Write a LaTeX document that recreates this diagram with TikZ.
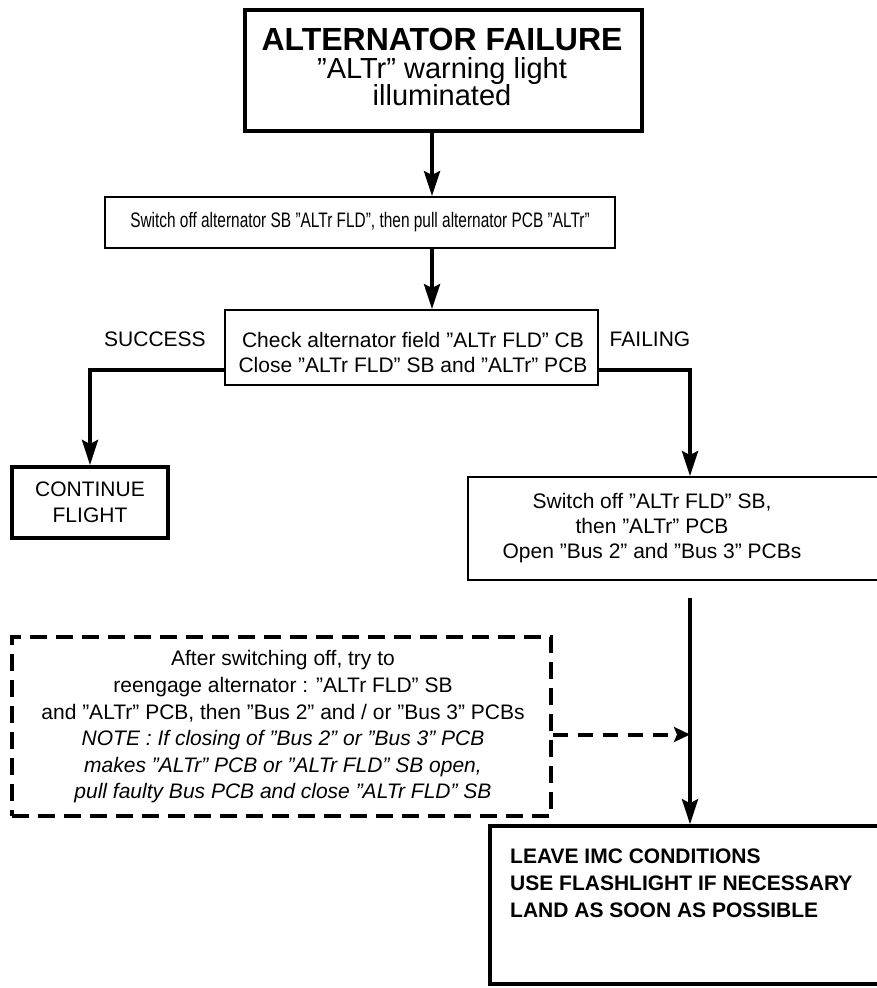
\documentclass[tikz,border=0pt]{standalone}
\usepackage{fontspec}
\usepackage{graphicx}
\setmainfont{Liberation Sans}
\usetikzlibrary{arrows.meta,calc}
\begin{document}
\begin{tikzpicture}[x=1pt,y=-1pt,
  body/.style={font=\fontsize{21}{25}\selectfont},
  box/.style={draw, line width=1.8pt, align=center, inner sep=0pt, body},
  thickbox/.style={box, line width=4pt},
  lbl/.style={body, inner sep=0pt},
  arr/.style={line width=4pt, -{Stealth[length=25pt,width=16pt,inset=4pt]}},
  darr/.style={line width=4pt, dash pattern=on 15pt off 10pt, -{Stealth[length=16pt,width=15pt,inset=3pt]}}
]
\useasboundingbox (0,0) rectangle (876,988);
\coordinate (xa) at (432,0);
\coordinate (xr) at (690,0);
\node[thickbox, minimum width=397pt, minimum height=121pt] (top) at (443.5,70.5) {};
\node[inner sep=0pt, align=center, font=\fontsize{29}{27.5}\selectfont] (topt) at (442,67)
  {{\fontsize{32}{28}\selectfont\bfseries ALTERNATOR FAILURE}\\
   ”ALTr” warning light\\
   illuminated};
\node[box, minimum width=510pt, minimum height=51pt] (b2) at (360,222.5)
  {\fontsize{21}{24}\selectfont\scalebox{0.735}[1]{Switch off alternator SB ”ALTr FLD”, then pull alternator PCB ”ALTr”}};
\node[box, minimum width=373pt, minimum height=75pt] (b3) at (411.5,347.5) {};
\node[lbl, align=center] (b3t) at (413,352)
  {Check alternator field ”ALTr FLD” CB\\Close ”ALTr FLD” SB and ”ALTr” PCB};
\node[lbl] (succ) at (155,339) {SUCCESS};
\node[lbl] (fail) at (650,339) {FAILING};
\node[thickbox, minimum width=156pt, minimum height=71pt] (cont) at (90,502.5)
  {CONTINUE\\[1pt]FLIGHT};
\node[box, minimum width=412pt, minimum height=103pt] (b4) at (674,528.5) {};
\node[lbl, align=center] (b4t) at (652,528.5)
  {Switch off ”ALTr FLD” SB,\\then ”ALTr” PCB\\Open ”Bus 2” and ”Bus 3” PCBs};
\node[box, line width=4pt, dash pattern=on 17pt off 9pt, minimum width=539pt, minimum height=179pt] (dash) at (281.5,726.5) {};
\node[lbl, align=center, font=\fontsize{21}{26.6}\selectfont] (dasht) at (283,727)
  {After switching off, try to\\
   reengage alternator : ”ALTr FLD” SB\\
   and ”ALTr” PCB, then ”Bus 2” and / or ”Bus 3” PCBs\\
   \itshape NOTE : If closing of ”Bus 2” or ”Bus 3” PCB\\
   \itshape makes ”ALTr” PCB or ”ALTr FLD” SB open,\\
   \itshape pull faulty Bus PCB and close ”ALTr FLD” SB};
\node[thickbox, line width=3.5pt, minimum width=390pt, minimum height=158pt] (fin) at (685,905) {};
\node[lbl, align=left, anchor=west, font=\fontsize{21}{27}\selectfont\bfseries] (fint) at (510,883)
  {LEAVE IMC CONDITIONS\\USE FLASHLIGHT IF NECESSARY\\LAND AS SOON AS POSSIBLE};
\coordinate (vtop) at (690,598);
\draw[arr] (top.south -| xa) -- (b2.north -| xa);
\draw[arr] (b2.south -| xa) -- (b3.north -| xa);
\draw[arr] ([yshift=-22pt]b3.west) -| (cont.north);
\draw[arr] ([yshift=-22pt]b3.east) -| (b4.north -| xr);
\draw[arr] (vtop) -- (fin.north -| vtop);
\draw[darr] ([yshift=-8pt]dash.east) -- ([yshift=-8pt]dash.east -| vtop);
\end{tikzpicture}
\end{document}
